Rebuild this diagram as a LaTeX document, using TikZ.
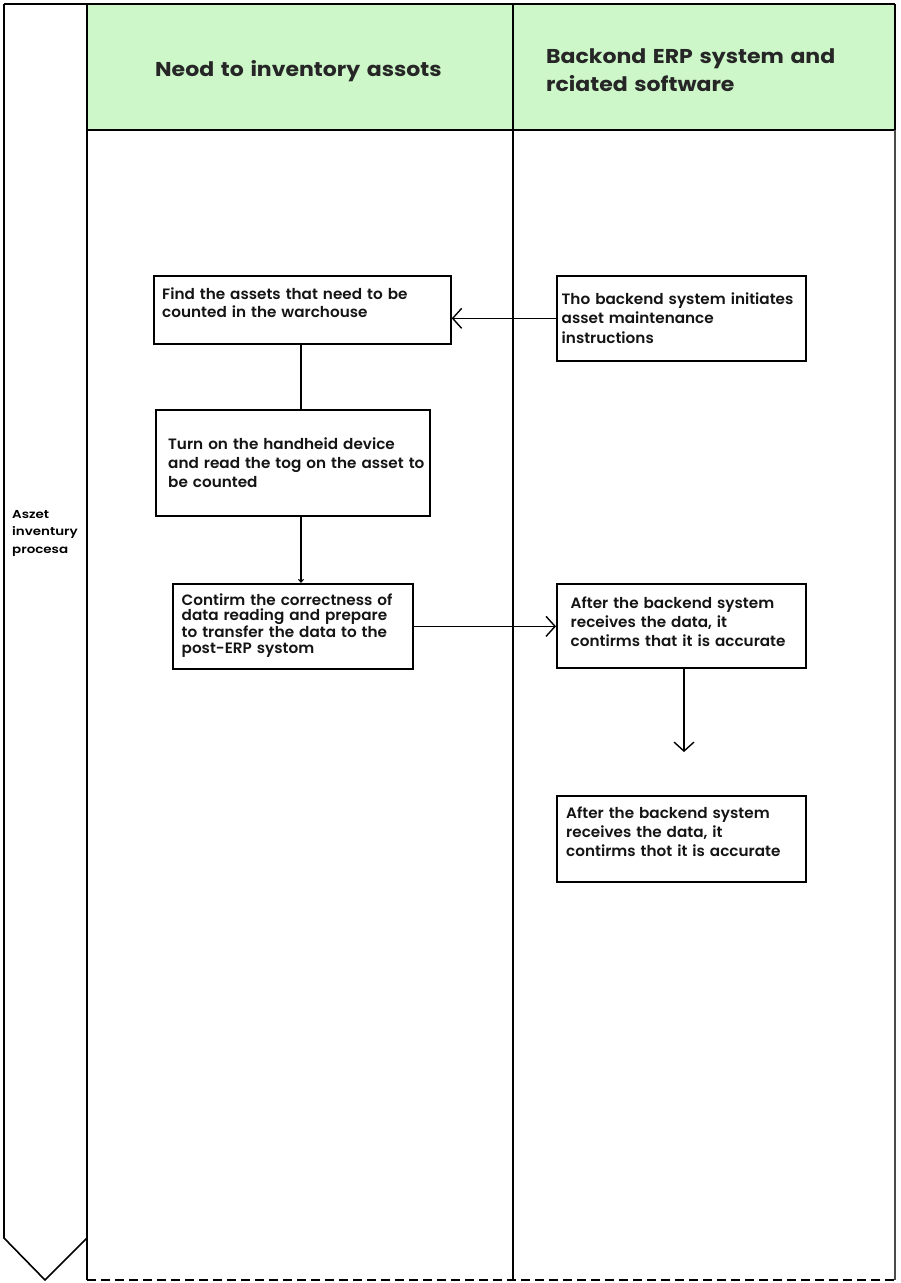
\documentclass[tikz,border=0pt]{standalone}
\usepackage{fontspec}
\setmainfont{Poppins}[UprightFont=* Medium, BoldFont=* SemiBold, FakeStretch=1.015]
\newfontfamily\popbold{Poppins Bold}[FakeStretch=1.1]
\newfontfamily\labfont{Poppins SemiBold}[FakeStretch=1.17]
\usetikzlibrary{arrows.meta}
\definecolor{headgreen}{HTML}{CDF6C9}
\definecolor{edgegrey}{HTML}{4A4A4A}
\tikzset{
  lane/.style={line width=1.6pt, draw=black},
  stepbox/.style={draw=black, line width=1.7pt, anchor=north west, inner sep=0pt},
  steptext/.style={anchor=base west, align=left, text width=280pt, inner sep=0pt,
    text=black!92},
  conn/.style={line width=1.5pt, draw=black},
  arr/.style={conn, -{Straight Barb[length=9pt,width=20pt,line width=1.4pt]}},
  smallarr/.style={conn, -{Straight Barb[length=3pt,width=5pt,line width=1pt]}},
  headtext/.style={anchor=base west, inner sep=0pt, font=\popbold\fontsize{20}{28.4}\selectfont,
    text=black!85, align=left},
}
\newcommand{\bodyfont}[1]{\bfseries\fontsize{15}{#1}\selectfont}
\begin{document}
\begin{tikzpicture}[x=1pt,y=-1pt]
\useasboundingbox (0,0) rectangle (900,1283);
\fill[white] (0,0) rectangle (900,1283);
% header fill
\fill[headgreen] (87,4) rectangle (895,130);
% frame
\draw[lane] (4,4) -- (895,4);
\draw[lane] (4,4) -- (4,1238) -- (45,1280) -- (87,1238);
\draw[lane] (87,4) -- (87,1280);
\draw[lane] (513,4) -- (513,1280);
\draw[lane] (87,130) -- (895,130);
\draw[lane] (895,4) -- (895,130);
\draw[line width=1.8pt, draw=edgegrey] (895,130) -- (895,1280);
\draw[line width=2.6pt, dash pattern=on 9pt off 5pt] (87,1280) -- (895,1280);
% headers
\node[headtext, text width=350pt] (h1) at (155,76.7) {Neod to inventory assots};
\node[headtext, text width=350pt] (h2) at (546,63.3) {Backond ERP system and\\rciated software};
\node[anchor=base west, align=left, text width=80pt, inner sep=0pt,
      font=\labfont\fontsize{11.5}{17.5}\selectfont] (lab) at (12,518) {Aszet\\inventury\\procesa};
% boxes
\node[stepbox, minimum width=297pt, minimum height=68pt] (b1) at (153,275) {};
\node[stepbox, minimum width=274pt, minimum height=106pt] (b2) at (155,409) {};
\node[stepbox, minimum width=240pt, minimum height=85pt] (b3) at (172,583) {};
\node[stepbox, minimum width=249pt, minimum height=85pt] (b4) at (556,275) {};
\node[stepbox, minimum width=249pt, minimum height=84pt] (b5) at (556,583) {};
\node[stepbox, minimum width=249pt, minimum height=86pt] (b6) at (556,795) {};
% box texts
\node[steptext, font=\bodyfont{18}] (t1) at (162,299.3)
  {Find the assets that need to be\\counted in the warchouse};
\node[steptext, font=\bodyfont{19.3}] (t2) at (168,449.3)
  {Turn on the handheid device\\and read the tog on the asset to\\be counted};
\node[steptext, font=\bodyfont{15.6}] (t3) at (181.5,605)
  {Contirm the correctness of\\data reading and prepare\\to transfer the data to the\\post-ERP systom};
\node[steptext, font=\bodyfont{19.5}] (t4) at (561.5,304.3)
  {Tho backend system initiates\\asset maintenance\\instructions};
\node[steptext, font=\bodyfont{19.2}] (t5) at (570.5,608.3)
  {After the backend system\\receives the data, it\\contirms that it is accurate};
\node[steptext, font=\bodyfont{19}] (t6) at (566,818.3)
  {After the backend system\\receives the data, it\\contirms thot it is accurate};
% connectors
\coordinate (e) at (684,752);
\draw[arr] (b4.west) -- (b4.west -| b1.east);
\draw[conn] (b1.south -| 301,0) -- (b2.north -| 301,0);
\draw[smallarr] (b2.south -| 301,0) -- (b3.north -| 301,0);
\draw[arr] (b3.east) -- (b3.east -| b5.west);
\draw[arr] (b5.south -| e) -- (e);
\end{tikzpicture}
\end{document}
